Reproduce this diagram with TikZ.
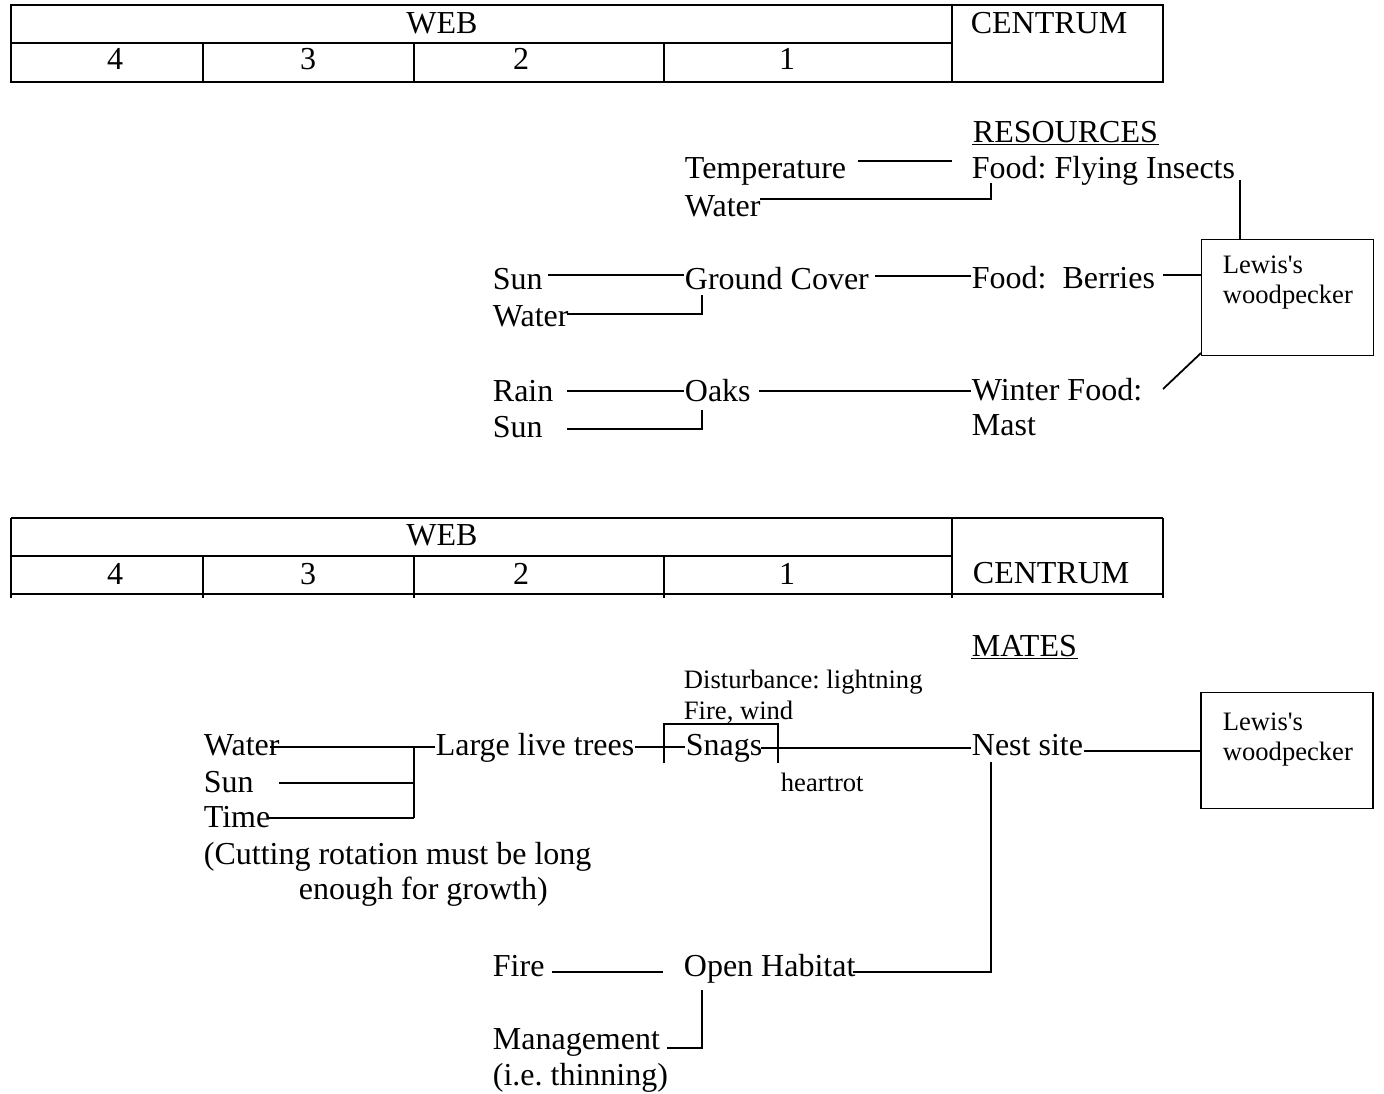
\documentclass[tikz,border=0pt]{standalone}
\usepackage{fontspec}
\setmainfont{Liberation Serif}[Ligatures=TeXOff]
\usepackage{tikz}
\usetikzlibrary{positioning}
\frenchspacing
\tikzset{
  lbl/.style={anchor=base west,inner sep=0pt,font=\fontsize{16}{18}\selectfont},
  chico/.style={anchor=base west,inner sep=0pt,font=\fontsize{13.3}{15}\selectfont},
  celda/.style={anchor=base,inner sep=0pt,font=\fontsize{16}{18}\selectfont},
  ave/.style={draw,inner sep=0pt,minimum width=86pt,minimum height=58pt},
  liga/.style={line width=0.9pt}
}

\begin{document}
\begin{tikzpicture}[x=0.5pt,y=-0.5pt,line width=0.9pt]
\useasboundingbox (0,0) rectangle (1384,1093);
% tabla de arriba
\draw (11,5) rectangle (1163,82);
\draw (11,43) -- (952,43);
\draw (952,5) -- (952,82);
\foreach \cx in {203,414,664} \draw (\cx,43) -- (\cx,82);
\node[celda] (web1) at (442,33) {WEB};
\node[celda] (cen1) at (1049,33) {CENTRUM};
\foreach \n/\cx in {4/115,3/308,2/521,1/787}
  \node[celda] (c1\n) at (\cx,69) {\n};

% recursos
\node[lbl] (res) at (972,142) {RESOURCES};
\draw ([yshift=-1.2pt]res.base west) -- ([yshift=-1.2pt]res.base east);
\node[lbl] (ins) at (971,178) {Food: Flying Insects};
\node[lbl] (temp) at (684,178) {Temperature};
\node[lbl] (wat1) at (684,216) {Water};
\node[lbl] (sun1) at (492,289) {Sun};
\node[lbl] (gcov) at (684,289) {Ground Cover};
\node[lbl] (ber) at (971,288) {Food:\ \ Berries};
\node[lbl] (wat2) at (492,326) {Water};
\node[lbl] (rain) at (492,401) {Rain};
\node[lbl] (oaks) at (684,401) {Oaks};
\node[lbl] (sun2) at (492,437) {Sun};
\node[lbl] (wint) at (971,400) {Winter Food:};
\node[lbl] (mast) at (971,435) {Mast};
\node[ave] (bird1) at (1287.5,297.5) {};
\node[chico] (lw1) at (1222,273) {Lewis's};
\node[chico] (wp1) at (1222,303) {woodpecker};

\draw[liga] (858,161) -- (952,161);
\draw[liga] (760,199) -- (991,199) -- (991,183);
\draw[liga] (1240,180) -- (1240,180 |- bird1.north);
\draw[liga] (548,275) -- (684,275);
\draw[liga] (567,314) -- (702,314) -- (702,295);
\draw[liga] (875,276) -- (971,276);
\draw[liga] (1163,275) -- (bird1.west |- 1163,275);
\draw[liga] (567,391) -- (684,391);
\draw[liga] (567,429) -- (702,429) -- (702,410);
\draw[liga] (759,391) -- (971,391);
\draw[liga] (1163,389) -- (1201,353);

% tabla de abajo
\draw (11,518) -- (1163,518);
\draw (11,556) -- (952,556);
\draw (11,594) -- (1163,594);
\foreach \cx in {11,952,1163} \draw (\cx,518) -- (\cx,598);
\foreach \cx in {203,414,664} \draw (\cx,556) -- (\cx,598);
\node[celda] (web2) at (442,545) {WEB};
\node[lbl] (cen2) at (972,583) {CENTRUM};
\foreach \n/\cx in {4/115,3/308,2/521,1/787}
  \node[celda] (c2\n) at (\cx,584) {\n};

% parejas
\node[lbl] (mat) at (971,656) {MATES};
\draw ([yshift=-1.2pt]mat.base west) -- ([yshift=-1.2pt]mat.base east);
\node[chico] (dist) at (683,688) {Disturbance: lightning};
\node[chico] (firw) at (683,719) {Fire, wind};
\node[lbl] (wat3) at (203,755) {Water};
\node[lbl] (large) at (435,755) {Large live trees};
\node[lbl] (snag) at (685,755) {Snags};
\node[lbl] (nest) at (971,755) {Nest site};
\node[chico] (hrot) at (780,791) {heartrot};
\node[lbl] (sun3) at (203,792) {Sun};
\node[lbl] (time) at (203,827) {Time};
\node[lbl] (cut1) at (203,864) {(Cutting rotation must be long};
\node[lbl] (cut2) at (298,899) {enough for growth)};
\node[lbl] (fire) at (492,976) {Fire};
\node[lbl] (open) at (683,976) {Open Habitat};
\node[lbl] (mgmt) at (492,1049) {Management};
\node[lbl] (thin) at (492,1085) {(i.e. thinning)};
\node[ave] (bird2) at (1287,750.5) {};
\node[chico] (lw2) at (1222,730) {Lewis's};
\node[chico] (wp2) at (1222,760) {woodpecker};

\draw[liga] (270,747) -- (435,747);
\draw[liga] (414,747) -- (414,818);
\draw[liga] (279,783) -- (414,783);
\draw[liga] (267,818) -- (414,818);
\draw[liga] (635,747) -- (685,747);
\draw[liga] (664,763) -- (664,724) -- (778,724) -- (778,763);
\draw[liga] (761,748) -- (971,748);
\draw[liga] (1084,751) -- (bird2.west |- 1084,751);
\draw[liga] (991,762) -- (991,972) -- (853,972);
\draw[liga] (552,972) -- (663,972);
\draw[liga] (667,1048) -- (702,1048) -- (702,990);
\end{tikzpicture}
\end{document}
